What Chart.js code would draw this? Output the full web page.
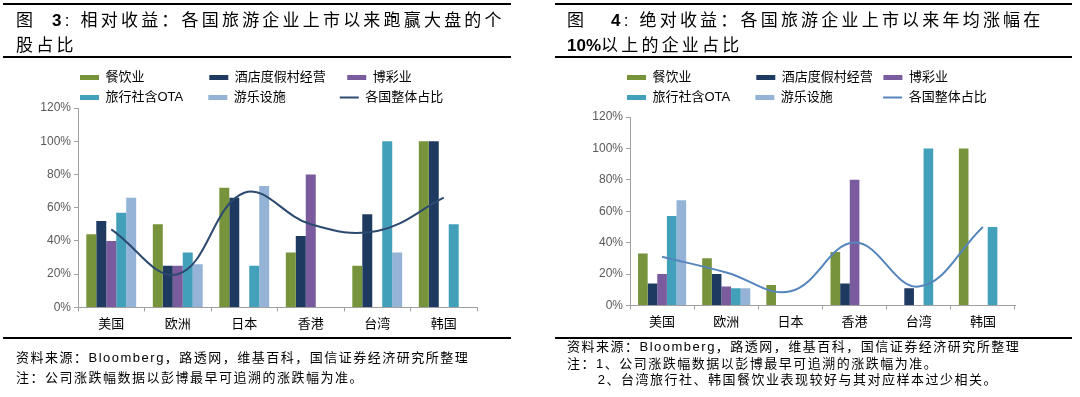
<!DOCTYPE html>
<html>
<head>
<meta charset="utf-8">
<script src="https://cdn.jsdelivr.net/npm/chart.js"></script>
<style>
  body { margin: 0; width: 1080px; height: 397px; background: #fff; position: relative; overflow: hidden;
         font-family: "Liberation Sans", "Noto Sans CJK SC", sans-serif; color: #000; }
  .rule { position: absolute; background: #000; height: 2px; }
  .title { position: absolute; font-size: 17px; line-height: 25px; letter-spacing: 3.2px; white-space: nowrap; }
  .note { position: absolute; font-size: 13px; letter-spacing: 1.5px; white-space: nowrap; }
  canvas { position: absolute; }
</style>
</head>
<body>
<div style="position:absolute;left:0;top:56px;width:540px;height:286px"><canvas id="c1"></canvas></div>
<div style="position:absolute;left:540px;top:56px;width:540px;height:286px"><canvas id="c2"></canvas></div>

<div class="rule" style="left:3px;top:3px;width:508px"></div>
<div class="title" style="left:16px;top:8px">图&nbsp;&nbsp;<b>3</b>:&nbsp;相对收益：各国旅游企业上市以来跑赢大盘的个<br>股占比</div>
<div class="rule" style="left:3px;top:56px;width:508px"></div>
<div class="rule" style="left:3px;top:337px;width:508px"></div>
<div class="note" style="left:16px;top:348px;line-height:20px">资料来源：Bloomberg，路透网，维基百科，国信证券经济研究所整理<br>注：公司涨跌幅数据以彭博最早可追溯的涨跌幅为准。</div>

<div class="rule" style="left:555px;top:3px;width:517px"></div>
<div class="title" style="left:567px;top:8px">图&nbsp;&nbsp;&nbsp;<b>4</b>:&nbsp;绝对收益：各国旅游企业上市以来年均涨幅在<br><b style="letter-spacing:0">10%</b>以上的企业占比</div>
<div class="rule" style="left:555px;top:56px;width:517px"></div>
<div class="rule" style="left:555px;top:337px;width:517px"></div>
<div class="note" style="left:567px;top:339px;line-height:16.5px">资料来源：Bloomberg，路透网，维基百科，国信证券经济研究所整理<br>注：1、公司涨跌幅数据以彭博最早可追溯的涨跌幅为准。<br>&nbsp;&nbsp;&nbsp;&nbsp;&nbsp;&nbsp;2、台湾旅行社、韩国餐饮业表现较好与其对应样本过少相关。</div>

<script>
// categories and series
const regions = ['美国', '欧洲', '日本', '香港', '台湾', '韩国'];
const seriesNames = ['餐饮业', '酒店度假村经营', '博彩业', '旅行社含OTA', '游乐设施', '各国整体占比'];
const yTicks = [0, 20, 40, 60, 80, 100, 120];

// 图3 相对收益 (%)
const relCatering = [44, 50, 72, 33, 25, 100];
const relHotel    = [52, 25, 66, 43, 56, 100];
const relCasino   = [40, 25, 0, 80, 0, 0];
const relTravel   = [57, 33, 25, 0, 100, 50];
const relLeisure  = [66, 26, 73, 0, 33, 0];
const relTotal    = [47, 20, 69, 50, 46, 66];

// 图4 绝对收益 (%)
const absCatering = [33, 30, 13, 34, 0, 100];
const absHotel    = [14, 20, 0, 14, 11, 0];
const absCasino   = [20, 12, 0, 80, 0, 0];
const absTravel   = [57, 11, 0, 0, 100, 50];
const absLeisure  = [67, 11, 0, 0, 0, 0];
const absTotal    = [31, 21, 9, 40, 12, 50];

const barColors = ['#77933c', '#1f3a60', '#7a5c9e', '#42a0ba', '#95b3d7'];
const FAMILY = '"Liberation Sans", "Noto Sans CJK SC", sans-serif';
const LEG_FONT = 13, LEG_PAD = 7, LEG_BOX = 19;

// pad legend text with spaces so the items start where the original ones do
const meas = document.createElement('canvas').getContext('2d');
meas.font = LEG_FONT + 'px ' + FAMILY;
function padTo(text, start, next) {
  const target = next - start - LEG_PAD - LEG_BOX - LEG_FONT / 2;
  let s = text;
  while (meas.measureText(s).width < target) s += ' ';
  return s;
}

// move the legend box to a fixed place after layout
const legendPos = {
  id: 'legendPos',
  afterLayout(chart, args, opts) {
    const lg = chart.legend;
    lg.left = opts.x - LEG_PAD;
    lg.right = lg.left + opts.w;
    lg.top = opts.y;
    lg.bottom = opts.y + 60;
  }
};

function makeChart(id, vals, lineColor, starts, box) {
  const labels = [
    padTo(seriesNames[0], starts[0][0], starts[0][1]),
    padTo(seriesNames[1], starts[0][1], starts[0][2]),
    seriesNames[2],
    padTo(seriesNames[3], starts[1][0], starts[1][1]),
    padTo(seriesNames[4], starts[1][1], starts[1][2]),
    seriesNames[5]
  ];
  const datasets = vals.slice(0, 5).map((d, i) => ({
    type: 'bar',
    label: labels[i],
    data: d,
    backgroundColor: barColors[i],
    borderWidth: 0,
    barPercentage: 1.0,
    categoryPercentage: 0.75,
    pointStyle: 'rect',
    order: 1
  }));
  datasets.push({
    type: 'line',
    label: labels[5],
    data: vals[5],
    borderColor: lineColor,
    backgroundColor: lineColor,
    borderWidth: 2,
    pointRadius: 0,
    tension: 0.4,
    pointStyle: 'line',
    order: 0
  });

  return new Chart(document.getElementById(id), {
    type: 'bar',
    data: { labels: regions, datasets: datasets },
    options: {
      responsive: true,
      maintainAspectRatio: false,
      animation: false,
      layout: { padding: box.padding },
      plugins: {
        legend: {
          position: 'top',
          align: 'start',
          labels: {
            usePointStyle: true,
            pointStyleWidth: LEG_BOX,
            boxHeight: 5,
            padding: LEG_PAD,
            color: '#000',
            font: { size: LEG_FONT, family: FAMILY },
            sort: (a, b) => a.datasetIndex - b.datasetIndex
          }
        },
        legendPos: { x: starts[0][0] - box.canvasX, y: box.legendY, w: 400 },
        tooltip: { enabled: false }
      },
      scales: {
        x: {
          grid: { drawOnChartArea: false, color: '#a0a0a0', tickLength: 4 },
          border: { color: '#a0a0a0' },
          ticks: { color: '#000', padding: 5, font: { size: 13, family: FAMILY } }
        },
        y: {
          min: 0,
          max: 120,
          afterFit: s => { s.width = 40; },
          afterBuildTicks: s => { s.ticks = yTicks.map(v => ({ value: v })); },
          grid: { drawOnChartArea: false, color: '#a0a0a0', tickLength: 4 },
          border: { color: '#a0a0a0' },
          ticks: { color: '#595959', padding: 3, font: { size: 12, family: FAMILY }, callback: v => v + '%' }
        }
      }
    },
    plugins: [legendPos]
  });
}

makeChart('c1',
  [relCatering, relHotel, relCasino, relTravel, relLeisure, relTotal],
  '#2c4a70',
  [[80, 208, 345], [80, 208, 338]],
  { canvasX: 0, legendY: 8, padding: { top: 2, left: 38, right: 63, bottom: 5 } });

makeChart('c2',
  [absCatering, absHotel, absCasino, absTravel, absLeisure, absTotal],
  '#5585bd',
  [[627, 755, 882], [627, 753, 878]],
  { canvasX: 540, legendY: 8, padding: { top: 11, left: 50, right: 65, bottom: 7 } });
</script>
</body>
</html>
